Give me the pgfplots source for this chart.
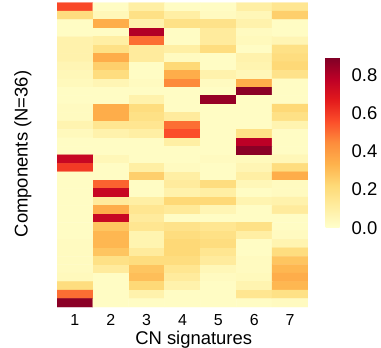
\documentclass[border=0pt]{standalone}
\usepackage{pgfplots}
\pgfplotsset{compat=1.18}
\usepackage{fontspec}
\setmainfont{Liberation Sans}
\pgfplotsset{colormap={ylorrd}{rgb255=(255,255,204) rgb255=(255,237,160) rgb255=(254,217,118) rgb255=(254,178,76) rgb255=(253,141,60) rgb255=(252,78,42) rgb255=(227,26,28) rgb255=(189,0,38) rgb255=(128,0,38)}}
\begin{document}
\begin{tikzpicture}
\begin{axis}[
  at={(0,0)}, anchor=south west,
  scale only axis, width=251bp, height=304.3bp,
  xmin=0.5, xmax=7.5, ymin=-0.5, ymax=35.5, y dir=reverse,
  axis line style={draw=none},
  major tick length=0pt,
  xtick={1,2,3,4,5,6,7}, ytick=\empty,
  /pgf/number format/assume math mode=true,
  xticklabel style={font=\fontsize{16}{16}\selectfont, anchor=base, yshift=-18.3bp},
  xlabel={CN signatures}, ylabel={Components (N=36)},
  label style={font=\fontsize{18.5}{18.5}\selectfont},
  xlabel style={at={(axis description cs:0.5446,-0.1239)}, anchor=base},
  ylabel style={at={(axis description cs:-0.1167,0.503)}, anchor=base},
  colormap name=ylorrd,
  point meta min=0, point meta max=0.89,
  colorbar,
  colorbar style={
    at={(parent axis.south east)}, anchor=south west, xshift=9bp, yshift=79.3bp,
    scale only axis, width=14bp, height=170bp,
    axis line style={draw=none}, major tick length=0pt,
    ytick={0,0.2,0.4,0.6,0.8},
    yticklabel style={font=\fontsize{18.5}{18.5}\selectfont, anchor=west, inner sep=0pt, xshift=12bp,
      /pgf/number format/.cd, fixed, fixed zerofill, precision=1, assume math mode=true},
  },
]
\addplot[matrix plot*, mesh/cols=7, point meta=explicit, shader=flat corner, draw=none] table[meta=c] {
x y c
1 0 0.57
2 0 0.02
3 0 0.10
4 0 0.02
5 0 0.02
6 0 0.10
7 0 0.15
1 1 0.20
2 1 0.05
3 1 0.18
4 1 0.10
5 1 0.03
6 1 0.05
7 1 0.25
1 2 0.02
2 2 0.35
3 2 0.08
4 2 0.18
5 2 0.17
6 2 0.08
7 2 0.02
1 3 0.02
2 3 0.02
3 3 0.80
4 3 0.02
5 3 0.12
6 3 0.03
7 3 0.02
1 4 0.08
2 4 0.10
3 4 0.50
4 4 0.02
5 4 0.12
6 4 0.04
7 4 0.06
1 5 0.08
2 5 0.18
3 5 0.12
4 5 0.10
5 5 0.20
6 5 0.02
7 5 0.18
1 6 0.08
2 6 0.35
3 6 0.12
4 6 0.03
5 6 0.02
6 6 0.08
7 6 0.20
1 7 0.06
2 7 0.25
3 7 0.02
4 7 0.22
5 7 0.02
6 7 0.07
7 7 0.22
1 8 0.05
2 8 0.20
3 8 0.02
4 8 0.35
5 8 0.08
6 8 0.05
7 8 0.17
1 9 0.04
2 9 0.06
3 9 0.03
4 9 0.45
5 9 0.03
6 9 0.35
7 9 0.02
1 10 0.02
2 10 0.02
3 10 0.02
4 10 0.02
5 10 0.02
6 10 0.87
7 10 0.02
1 11 0.02
2 11 0.02
3 11 0.08
4 11 0.02
5 11 0.85
6 11 0.02
7 11 0.02
1 12 0.03
2 12 0.35
3 12 0.20
4 12 0.02
5 12 0.02
6 12 0.02
7 12 0.22
1 13 0.03
2 13 0.35
3 13 0.18
4 13 0.12
5 13 0.02
6 13 0.02
7 13 0.18
1 14 0.07
2 14 0.15
3 14 0.15
4 14 0.50
5 14 0.02
6 14 0.02
7 14 0.07
1 15 0.04
2 15 0.08
3 15 0.10
4 15 0.56
5 15 0.02
6 15 0.18
7 15 0.02
1 16 0.02
2 16 0.02
3 16 0.02
4 16 0.10
5 16 0.02
6 16 0.78
7 16 0.02
1 17 0.02
2 17 0.02
3 17 0.02
4 17 0.02
5 17 0.02
6 17 0.87
7 17 0.02
1 18 0.75
2 18 0.05
3 18 0.02
4 18 0.02
5 18 0.03
6 18 0.04
7 18 0.05
1 19 0.60
2 19 0.02
3 19 0.10
4 19 0.03
5 19 0.02
6 19 0.06
7 19 0.20
1 20 0.02
2 20 0.02
3 20 0.25
4 20 0.10
5 20 0.02
6 20 0.10
7 20 0.35
1 21 0.02
2 21 0.52
3 21 0.02
4 21 0.12
5 21 0.20
6 21 0.05
7 21 0.03
1 22 0.02
2 22 0.75
3 22 0.02
4 22 0.08
5 22 0.10
6 22 0.02
7 22 0.03
1 23 0.02
2 23 0.12
3 23 0.10
4 23 0.22
5 23 0.22
6 23 0.07
7 23 0.08
1 24 0.02
2 24 0.35
3 24 0.15
4 24 0.13
5 24 0.06
6 24 0.02
7 24 0.12
1 25 0.02
2 25 0.75
3 25 0.12
4 25 0.02
5 25 0.02
6 25 0.02
7 25 0.02
1 26 0.02
2 26 0.28
3 26 0.15
4 26 0.17
5 26 0.15
6 26 0.18
7 26 0.02
1 27 0.02
2 27 0.32
3 27 0.07
4 27 0.20
5 27 0.18
6 27 0.10
7 27 0.03
1 28 0.03
2 28 0.32
3 28 0.07
4 28 0.22
5 28 0.20
6 28 0.02
7 28 0.07
1 29 0.03
2 29 0.28
3 29 0.12
4 29 0.22
5 29 0.15
6 29 0.02
7 29 0.20
1 30 0.03
2 30 0.18
3 30 0.20
4 30 0.20
5 30 0.12
6 30 0.03
7 30 0.28
1 31 0.03
2 31 0.12
3 31 0.28
4 31 0.15
5 31 0.05
6 31 0.03
7 31 0.32
1 32 0.04
2 32 0.02
3 32 0.30
4 32 0.12
5 32 0.03
6 32 0.04
7 32 0.35
1 33 0.20
2 33 0.02
3 33 0.22
4 33 0.08
5 33 0.02
6 33 0.07
7 33 0.32
1 34 0.50
2 34 0.02
3 34 0.08
4 34 0.02
5 34 0.02
6 34 0.15
7 34 0.18
1 35 0.87
2 35 0.02
3 35 0.02
4 35 0.02
5 35 0.02
6 35 0.02
7 35 0.03
};
\end{axis}
\pgfresetboundingbox
\useasboundingbox (-57bp,-41bp) rectangle (324bp,307bp);
\end{tikzpicture}
\end{document}
